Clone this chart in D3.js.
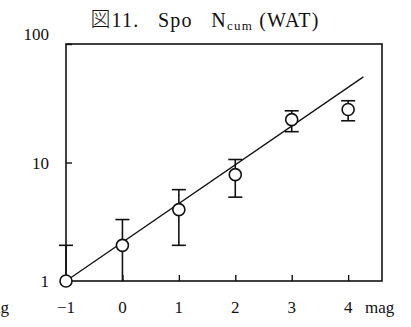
<!DOCTYPE html>
<html>
<head>
<meta charset="utf-8">
<script src="https://cdn.jsdelivr.net/npm/d3@7"></script>
<style>
body{margin:0;background:#fff;}
text{font-family:"Liberation Serif","DejaVu Serif",serif;fill:#111;}
</style>
</head>
<body>
<div id="chart"></div>
<script>
// magnitude bins and cumulative counts
var mags=[-1,0,1,2,3,4];
var ncum=[1,2,4,7.9,23,28];
var errHi=[2,3.3,5.9,10.6,27.3,33.2];
var errLo=[1,1,2,5.1,18.2,22.5];
// fitted line end points
var fitX=[-1,4.27];
var fitY=[1,52.8];
var xTicks=[-1,0,1,2,3,4];
var yTicks=[1,10,100];

var W=411,H=327;
var pL=66,pR=382,pT=44,pB=281;

var svg=d3.select("#chart").append("svg").attr("width",W).attr("height",H);

var x=d3.scaleLinear().domain([-1,4.6]).range([pL,pR]);
var y=d3.scaleLog().domain([1,100]).range([pB,pT]);

//frame
svg.append("rect")
	.attr("x",pL).attr("y",pT)
	.attr("width",pR-pL).attr("height",pB-pT)
	.attr("fill","none").attr("stroke","#111").attr("stroke-width",1.6);

//x ticks (inside)
var xAxis=d3.axisTop(x).tickValues(xTicks).tickSize(6).tickFormat("");
var gx=svg.append("g").attr("transform","translate(0,"+pB+")").call(xAxis);
gx.select(".domain").remove();
gx.selectAll("line").attr("stroke","#111").attr("stroke-width",1.4);

//y ticks (inside)
var yAxis=d3.axisRight(y).tickValues(yTicks).tickSize(6).tickFormat("");
var gy=svg.append("g").attr("transform","translate("+pL+",0)").call(yAxis);
gy.select(".domain").remove();
gy.selectAll("line").attr("stroke","#111").attr("stroke-width",1.4);

//tick labels
svg.selectAll(".xl").data(xTicks).enter().append("text")
	.attr("class","xl")
	.attr("x",function(d){return x(d);})
	.attr("y",313)
	.attr("text-anchor","middle")
	.attr("font-size",17)
	.text(function(d){return d<0?"\u2212"+(-d):d;});

svg.selectAll(".yl").data(yTicks).enter().append("text")
	.attr("class","yl")
	.attr("x",49)
	.attr("y",function(d){return y(d)+(d==100?-4:6);})
	.attr("text-anchor","end")
	.attr("font-size",17)
	.text(function(d){return d;});

svg.append("text").attr("x",365).attr("y",313).attr("font-size",17).text("mag");
//partial label from the neighbouring panel, cut by the left edge
svg.append("text").attr("x",9).attr("y",313).attr("text-anchor","end").attr("font-size",17).text("mag");

//title
var title=svg.append("text").attr("x",205).attr("y",27).attr("text-anchor","middle").attr("font-size",20).attr("letter-spacing",1.2);
title.append("tspan").attr("font-family","'Noto Sans CJK JP'").attr("font-weight",300).text("\u56f3");
title.append("tspan").text("11.\u00a0\u00a0\u00a0Spo\u00a0\u00a0\u00a0N");
title.append("tspan").attr("font-size",13).attr("dy",3).text("cum");
title.append("tspan").attr("dy",-3).text("\u00a0(WAT)");

//fit line
var line=d3.line().x(function(d){return x(d[0]);}).y(function(d){return y(d[1]);});
svg.append("path")
	.attr("d",line(d3.zip(fitX,fitY)))
	.attr("fill","none").attr("stroke","#111").attr("stroke-width",1.3);

//error bars
var pts=d3.range(mags.length);
var cap=7;
var g=svg.append("g").attr("stroke","#111").attr("stroke-width",1.6);
pts.forEach(function(i){
	var cx=x(mags[i]);
	g.append("line").attr("x1",cx).attr("x2",cx).attr("y1",y(errLo[i])).attr("y2",y(errHi[i]));
	g.append("line").attr("x1",cx-cap).attr("x2",cx+cap).attr("y1",y(errHi[i])).attr("y2",y(errHi[i]));
	if(errLo[i]>1)
		g.append("line").attr("x1",cx-cap).attr("x2",cx+cap).attr("y1",y(errLo[i])).attr("y2",y(errLo[i]));
});

//points
svg.selectAll(".pt").data(pts).enter().append("circle")
	.attr("class","pt")
	.attr("cx",function(i){return x(mags[i]);})
	.attr("cy",function(i){return y(ncum[i]);})
	.attr("r",6)
	.attr("fill","#fff").attr("stroke","#111").attr("stroke-width",1.6);
</script>
</body>
</html>
